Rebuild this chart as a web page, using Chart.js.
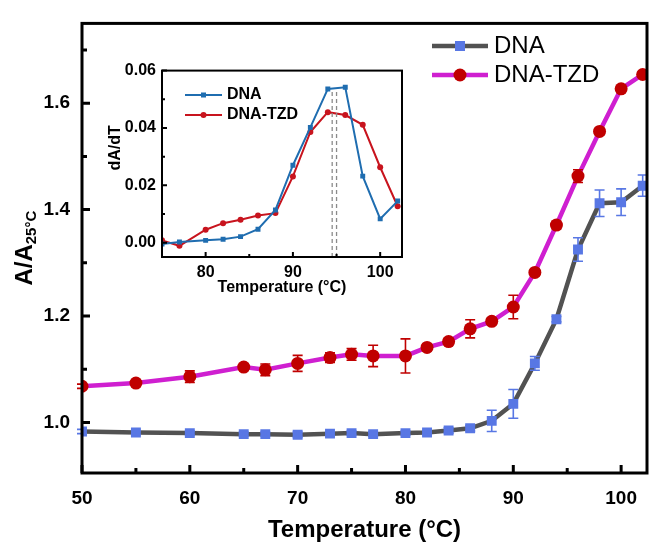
<!DOCTYPE html>
<html>
<head>
<meta charset="utf-8">
<script src="https://cdn.jsdelivr.net/npm/chart.js@4.4.0/dist/chart.umd.min.js"></script>
<style>
    body { margin: 0; background: #fff; }
    #wrap { position: relative; width: 654px; height: 543px; }
    #mainChart { position: absolute; left: 0; top: 0; }
    #insetChart { position: absolute; left: 100px; top: 55px; }
</style>
</head>
<body>
<div id="wrap">
    <canvas id="mainChart" width="654" height="543"></canvas>
    <canvas id="insetChart" width="306" height="245"></canvas>
</div>
<script>
// main panel data
const temps = [50, 55, 60, 65, 67, 70, 73, 75, 77, 80, 82, 84, 86, 88, 90, 92, 94, 96, 98, 100, 102];
const dnaAbs = [0.983, 0.981, 0.980, 0.978, 0.978, 0.977, 0.979, 0.980, 0.978, 0.980, 0.981, 0.985, 0.989, 1.003, 1.035, 1.111, 1.194, 1.325, 1.412, 1.414, 1.445];
const dnaErr = [0.004, 0.004, 0.004, 0.004, 0.004, 0.005, 0.004, 0.004, 0.004, 0.004, 0.004, 0.005, 0.005, 0.020, 0.027, 0.013, 0.005, 0.022, 0.025, 0.025, 0.020];
const tzdAbs = [1.068, 1.074, 1.086, 1.104, 1.099, 1.111, 1.122, 1.128, 1.125, 1.125, 1.141, 1.152, 1.176, 1.190, 1.217, 1.282, 1.371, 1.463, 1.547, 1.627, 1.654];
const tzdErr = [0.004, 0.004, 0.011, 0.006, 0.011, 0.015, 0.009, 0.011, 0.020, 0.032, 0.006, 0.006, 0.017, 0.006, 0.022, 0.006, 0.007, 0.012, 0.006, 0.005, 0.005];
const mainXTicks = [50, 60, 70, 80, 90, 100];
const mainXMinor = [55, 65, 75, 85, 95];
const mainYTicks = [1.0, 1.2, 1.4, 1.6];
const mainYMinor = [1.1, 1.3, 1.5, 1.7];

// inset (derivative) data
const insetTemps = [75, 77, 80, 82, 84, 86, 88, 90, 92, 94, 96, 98, 100, 102];
const dnaDeriv = [-0.0005, 0.0002, 0.0008, 0.0012, 0.0021, 0.0047, 0.0114, 0.0270, 0.0402, 0.0536, 0.0542, 0.0232, 0.0083, 0.0145];
const tzdDeriv = [0.0008, -0.0011, 0.0045, 0.0068, 0.0080, 0.0095, 0.0103, 0.0231, 0.0386, 0.0455, 0.0445, 0.0411, 0.0263, 0.0127];
const peakTemps = [94.5, 95.0];
const peakTop = 0.053;
const insetXTicks = [80, 90, 100];
const insetXMinor = [85, 95];
const insetYTicks = [0.00, 0.02, 0.04, 0.06];
const insetYMinor = [0.01, 0.03, 0.05];

const FONT = "'Liberation Sans', Arial, sans-serif";

function toPoints(xs, ys) {
    return xs.map((x, i) => ({x: x, y: ys[i]}));
}

// box frame + inward tick marks
const frameTicks = {
    id: 'frameTicks',
    afterDatasetsDraw(chart, args, opts) {
        const ctx = chart.ctx;
        const a = chart.chartArea;
        const x = chart.scales.x, y = chart.scales.y;
        ctx.save();
        ctx.strokeStyle = '#000';
        ctx.lineWidth = opts.tickWidth;
        ctx.beginPath();
        opts.xMajor.forEach(v => { let p = x.getPixelForValue(v); ctx.moveTo(p, a.bottom); ctx.lineTo(p, a.bottom - opts.majorLen); });
        opts.xMinor.forEach(v => { let p = x.getPixelForValue(v); ctx.moveTo(p, a.bottom); ctx.lineTo(p, a.bottom - opts.minorLen); });
        opts.yMajor.forEach(v => { let p = y.getPixelForValue(v); ctx.moveTo(a.left, p); ctx.lineTo(a.left + opts.majorLen, p); });
        opts.yMinor.forEach(v => { let p = y.getPixelForValue(v); ctx.moveTo(a.left, p); ctx.lineTo(a.left + opts.minorLen, p); });
        ctx.stroke();
        ctx.lineWidth = opts.lineWidth;
        ctx.strokeRect(a.left, a.top, a.right - a.left, a.bottom - a.top);
        ctx.restore();
    }
};

// vertical error bars with caps
const errorBars = {
    id: 'errorBars',
    afterDatasetsDraw(chart) {
        const ctx = chart.ctx;
        const x = chart.scales.x, y = chart.scales.y;
        chart.data.datasets.forEach(ds => {
            if (!ds.errors) return;
            ctx.save();
            ctx.strokeStyle = ds.pointBackgroundColor;
            ctx.lineWidth = 1.6;
            ctx.beginPath();
            ds.data.forEach((pt, i) => {
                let px = x.getPixelForValue(pt.x);
                let top = y.getPixelForValue(pt.y + ds.errors[i]);
                let bot = y.getPixelForValue(pt.y - ds.errors[i]);
                ctx.moveTo(px, top); ctx.lineTo(px, bot);
                ctx.moveTo(px - 5, top); ctx.lineTo(px + 5, top);
                ctx.moveTo(px - 5, bot); ctx.lineTo(px + 5, bot);
            });
            ctx.stroke();
            ctx.restore();
        });
    }
};

// legend with line through marker, and axis titles
const customText = {
    id: 'customText',
    afterDraw(chart, args, opts) {
        const ctx = chart.ctx;
        ctx.save();
        opts.legend.forEach((item, i) => {
            let ly = opts.legendY + i * opts.legendGap;
            ctx.strokeStyle = item.line;
            ctx.lineWidth = item.lineWidth;
            ctx.beginPath();
            ctx.moveTo(opts.legendX, ly);
            ctx.lineTo(opts.legendX + opts.legendLen, ly);
            ctx.stroke();
            ctx.fillStyle = item.marker;
            let mx = opts.legendX + opts.legendLen / 2;
            if (item.shape === 'rect') {
                ctx.fillRect(mx - item.size, ly - item.size, item.size * 2, item.size * 2);
            } else {
                ctx.beginPath();
                ctx.arc(mx, ly, item.size, 0, Math.PI * 2);
                ctx.fill();
            }
            ctx.fillStyle = '#000';
            ctx.font = opts.legendFont;
            ctx.textBaseline = 'middle';
            ctx.textAlign = 'left';
            ctx.fillText(item.label, opts.legendX + opts.legendLen + opts.legendPad, ly);
        });

        // x title
        ctx.fillStyle = '#000';
        ctx.font = opts.titleFont;
        ctx.textAlign = 'center';
        ctx.textBaseline = 'middle';
        let a = chart.chartArea;
        ctx.fillText(opts.xTitle, (a.left + a.right) / 2, opts.xTitleY);

        // y title, rotated, optional subscript
        ctx.translate(opts.yTitleX, (a.top + a.bottom) / 2 + opts.yTitleShift);
        ctx.rotate(-Math.PI / 2);
        ctx.font = opts.titleFont;
        let w1 = ctx.measureText(opts.yTitle).width;
        let w2 = 0;
        if (opts.ySub) {
            ctx.font = opts.subFont;
            w2 = ctx.measureText(opts.ySub).width;
        }
        let start = -(w1 + w2) / 2;
        ctx.textAlign = 'left';
        ctx.font = opts.titleFont;
        ctx.fillText(opts.yTitle, start, 0);
        if (opts.ySub) {
            ctx.font = opts.subFont;
            ctx.fillText(opts.ySub, start + w1, 7);
        }
        ctx.restore();
    }
};

function axisOpts(min, max, ticks, fontSize, pad, decimals, size, horizontal) {
    return {
        type: 'linear',
        min: min,
        max: max,
        grid: { display: false, drawTicks: false },
        border: { display: false },
        afterBuildTicks: s => { s.ticks = ticks.map(v => ({value: v})); },
        afterFit: s => { if (horizontal) s.height = size; else s.width = size; },
        ticks: {
            padding: pad,
            color: '#000',
            font: { family: FONT, size: fontSize, weight: 'bold' },
            callback: v => decimals === null ? v : Number(v).toFixed(decimals)
        }
    };
}

new Chart(document.getElementById('mainChart').getContext('2d'), {
    type: 'line',
    data: {
        datasets: [{
            label: 'DNA',
            data: toPoints(temps, dnaAbs),
            errors: dnaErr,
            borderColor: '#525252',
            borderWidth: 4.5,
            pointStyle: 'rect',
            pointRadius: 7,
            pointBackgroundColor: '#5877e4',
            pointBorderWidth: 0,
            tension: 0,
            clip: 0
        }, {
            label: 'DNA-TZD',
            data: toPoints(temps, tzdAbs),
            errors: tzdErr,
            borderColor: '#cf1fd0',
            borderWidth: 4.5,
            pointStyle: 'circle',
            pointRadius: 6.5,
            pointBackgroundColor: '#c00000',
            pointBorderWidth: 0,
            tension: 0,
            clip: 0
        }]
    },
    plugins: [errorBars, frameTicks, customText],
    options: {
        responsive: false,
        animation: false,
        layout: { padding: { top: 14, right: 4, left: 0, bottom: 0 } },
        scales: {
            x: axisOpts(50, 102.4, mainXTicks, 19, 14, null, 70, true),
            y: axisOpts(0.905, 1.75, mainYTicks, 19, 12, 1, 82, false)
        },
        plugins: {
            legend: { display: false },
            tooltip: { enabled: false },
            frameTicks: { xMajor: mainXTicks, xMinor: mainXMinor, yMajor: mainYTicks, yMinor: mainYMinor, majorLen: 8, minorLen: 5, tickWidth: 3, lineWidth: 3 },
            customText: {
                legend: [
                    { label: 'DNA', line: '#525252', lineWidth: 4.5, marker: '#5877e4', shape: 'rect', size: 5 },
                    { label: 'DNA-TZD', line: '#cf1fd0', lineWidth: 4.5, marker: '#c00000', shape: 'circle', size: 6.5 }
                ],
                legendX: 432, legendY: 46, legendGap: 29, legendLen: 56, legendPad: 6,
                legendFont: '24px ' + FONT,
                xTitle: 'Temperature (°C)', xTitleY: 530,
                yTitle: 'A/A', ySub: '25°C', yTitleX: 25, yTitleShift: 0,
                titleFont: 'bold 24px ' + FONT, subFont: 'bold 15px ' + FONT
            }
        }
    }
});

let peakSets = peakTemps.map(t => ({
    data: [{x: t, y: -0.005}, {x: t, y: peakTop}],
    borderColor: '#8a8a8a',
    borderWidth: 1.3,
    borderDash: [4, 3],
    pointRadius: 0
}));

new Chart(document.getElementById('insetChart').getContext('2d'), {
    type: 'line',
    data: {
        datasets: peakSets.concat([{
            label: 'DNA',
            data: toPoints(insetTemps, dnaDeriv),
            borderColor: '#1f6db0',
            borderWidth: 2,
            pointStyle: 'rect',
            pointRadius: 3.5,
            pointBackgroundColor: '#1f6db0',
            pointBorderWidth: 0,
            tension: 0,
            clip: 0
        }, {
            label: 'DNA-TZD',
            data: toPoints(insetTemps, tzdDeriv),
            borderColor: '#c8141e',
            borderWidth: 2,
            pointStyle: 'circle',
            pointRadius: 3,
            pointBackgroundColor: '#c8141e',
            pointBorderWidth: 0,
            tension: 0,
            clip: 0
        }])
    },
    plugins: [frameTicks, customText],
    options: {
        responsive: false,
        animation: false,
        layout: { padding: { top: 8, right: 3, left: 0, bottom: 0 } },
        scales: {
            x: axisOpts(75, 102.5, insetXTicks, 16, 6, null, 43, true),
            y: axisOpts(-0.005, 0.06, insetYTicks, 16, 6, 2, 62, false)
        },
        plugins: {
            legend: { display: false },
            tooltip: { enabled: false },
            frameTicks: { xMajor: insetXTicks, xMinor: insetXMinor, yMajor: insetYTicks, yMinor: insetYMinor, majorLen: 5, minorLen: 3, tickWidth: 2, lineWidth: 2 },
            customText: {
                legend: [
                    { label: 'DNA', line: '#1f6db0', lineWidth: 2, marker: '#1f6db0', shape: 'rect', size: 2.5 },
                    { label: 'DNA-TZD', line: '#c8141e', lineWidth: 2, marker: '#c8141e', shape: 'circle', size: 3 }
                ],
                legendX: 85, legendY: 40, legendGap: 20, legendLen: 37, legendPad: 5,
                legendFont: 'bold 16px ' + FONT,
                xTitle: 'Temperature (°C)', xTitleY: 233,
                yTitle: 'dA/dT', ySub: '', yTitleX: 16, yTitleShift: -16,
                titleFont: 'bold 16px ' + FONT, subFont: 'bold 12px ' + FONT
            }
        }
    }
});
</script>
</body>
</html>
